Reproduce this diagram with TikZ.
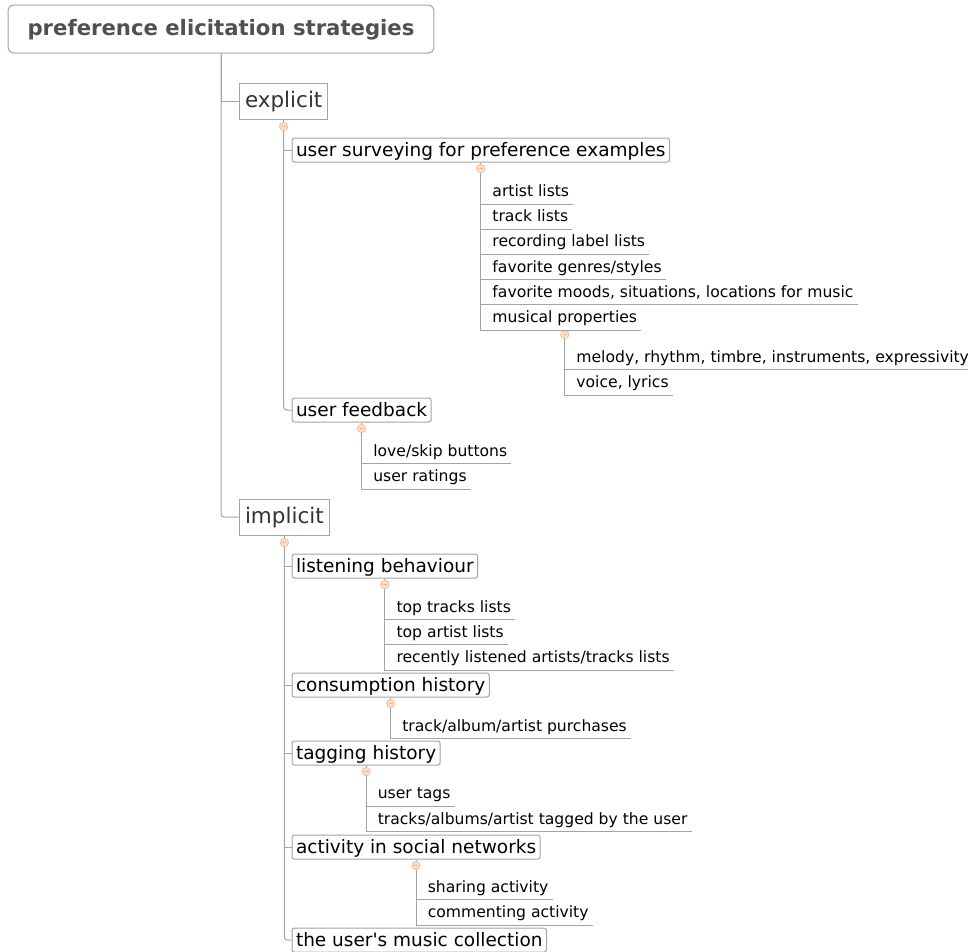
\documentclass[tikz,border=0pt]{standalone}
\usepackage{fontspec}
\setmainfont{DejaVu Sans}
\usetikzlibrary{positioning}
\definecolor{prefGray}{HTML}{A3A3A3}
\definecolor{prefDark}{HTML}{505050}
\definecolor{prefText}{HTML}{333333}
\definecolor{prefFoldFill}{HTML}{FCDDC8}
\definecolor{prefFoldLine}{HTML}{F2B893}
\begin{document}
\begin{tikzpicture}[x=1pt,y=-1pt,
    prefLine/.style={draw=prefGray,line width=1pt,rounded corners=3pt},
    prefLeafLine/.style={draw=prefGray,line width=1pt},
    prefRoot/.style={draw=prefGray,line width=1pt,rounded corners=6pt,minimum height=48pt,inner xsep=19.5pt,text height=17pt,text depth=5pt,font=\fontsize{21.2}{25}\selectfont\bfseries,text=prefDark},
    prefTopic/.style={draw=prefGray,line width=1pt,minimum height=36pt,inner xsep=5.5pt,anchor=west,text height=17.8pt,text depth=5.2pt,font=\fontsize{21.5}{26}\selectfont,text=prefText},
    prefSub/.style={draw=prefGray,line width=1pt,rounded corners=2.5pt,minimum height=24pt,inner xsep=4pt,inner ysep=0pt,anchor=west,text height=16.3pt,text depth=4.3pt,font=\fontsize{18.5}{22}\selectfont},
    prefLeaf/.style={anchor=south west,xshift=7.5pt,inner xsep=4pt,inner ysep=3.5pt,text height=11.8pt,text depth=3.5pt,font=\fontsize{15.6}{18}\selectfont},
    prefFold/.style={circle,draw=prefFoldLine,fill=prefFoldFill,line width=0.6pt,minimum size=8.5pt,inner sep=0pt,
        path picture={\draw[prefFoldLine,line width=0.8pt] ([xshift=-2pt]path picture bounding box.center) -- ([xshift=2pt]path picture bounding box.center);}},
]
\useasboundingbox (0,0) rectangle (968,951);
% Root
\node[prefRoot] (root) at (221,29) {preference elicitation strategies};
% Topics
\node[prefTopic] (expl) at (239,101) {explicit};
\node[prefTopic] (impl) at (239,517) {implicit};
\node[prefFold,below=2.5pt of expl] (explFold) {};
\node[prefFold,below=2.5pt of impl] (implFold) {};
% Explicit branch
\node[prefSub] (survey) at (291.5,150) {user surveying for preference examples};
\node[prefFold,below=1.5pt of survey] (surveyFold) {};
\node[prefLeaf] (artists) at (surveyFold |- 0,204) {artist lists};
\node[prefLeaf] (tracks) at (surveyFold |- 0,229) {track lists};
\node[prefLeaf] (labels) at (surveyFold |- 0,254) {recording label lists};
\node[prefLeaf] (genres) at (surveyFold |- 0,279.5) {favorite genres/styles};
\node[prefLeaf] (moods) at (surveyFold |- 0,304.5) {favorite moods, situations, locations for music};
\node[prefLeaf] (musical) at (surveyFold |- 0,330) {musical properties};
\node[prefFold,below=0pt of musical] (musicalFold) {};
\node[prefLeaf] (melody) at (musicalFold |- 0,369.5) {melody, rhythm, timbre, instruments, expressivity};
\node[prefLeaf] (voice) at (musicalFold |- 0,395) {voice, lyrics};
\node[prefSub] (feedback) at (291.5,410) {user feedback};
\node[prefFold,below=1.5pt of feedback] (feedbackFold) {};
\node[prefLeaf] (buttons) at (feedbackFold |- 0,463.5) {love/skip buttons};
\node[prefLeaf] (ratings) at (feedbackFold |- 0,489) {user ratings};
% Implicit branch
\node[prefSub] (listening) at (291.5,566) {listening behaviour};
\node[prefFold,below=1.5pt of listening] (listeningFold) {};
\node[prefLeaf] (topTracks) at (listeningFold |- 0,619.5) {top tracks lists};
\node[prefLeaf] (topArtists) at (listeningFold |- 0,644.5) {top artist lists};
\node[prefLeaf] (recent) at (listeningFold |- 0,670) {recently listened artists/tracks lists};
\node[prefSub] (consumption) at (291.5,685) {consumption history};
\node[prefFold,below=1.5pt of consumption] (consumptionFold) {};
\node[prefLeaf] (purchases) at (consumptionFold |- 0,738.5) {track/album/artist purchases};
\node[prefSub] (tagging) at (291.5,753) {tagging history};
\node[prefFold,below=1.5pt of tagging] (taggingFold) {};
\node[prefLeaf] (userTags) at (taggingFold |- 0,806) {user tags};
\node[prefLeaf] (tagged) at (taggingFold |- 0,831.5) {tracks/albums/artist tagged by the user};
\node[prefSub] (social) at (291.5,847) {activity in social networks};
\node[prefFold,below=1.5pt of social] (socialFold) {};
\node[prefLeaf] (sharing) at (socialFold |- 0,899.5) {sharing activity};
\node[prefLeaf] (commenting) at (socialFold |- 0,925) {commenting activity};
\node[prefSub] (collection) at (291.5,940) {the user\textquotesingle s music collection};
% Connectors (last child gets the rounded elbow)
\draw[prefLeafLine] (root.south) |- (expl.west);
\draw[prefLine] (root.south) |- (impl.west);
\draw[prefLine] (expl.south) -- (explFold.north);
\draw[prefLine] (impl.south) -- (implFold.north);
\draw[prefLeafLine] (explFold.south) |- (survey.west);
\draw[prefLine] (explFold.south) |- (feedback.west);
\draw[prefLeafLine] (implFold.south) |- (listening.west);
\draw[prefLeafLine] (implFold.south) |- (consumption.west);
\draw[prefLeafLine] (implFold.south) |- (tagging.west);
\draw[prefLeafLine] (implFold.south) |- (social.west);
\draw[prefLine] (implFold.south) |- (collection.west);
\draw[prefLine] (survey.south) -- (surveyFold.north);
\draw[prefLine] (feedback.south) -- (feedbackFold.north);
\draw[prefLine] (listening.south) -- (listeningFold.north);
\draw[prefLine] (consumption.south) -- (consumptionFold.north);
\draw[prefLine] (tagging.south) -- (taggingFold.north);
\draw[prefLine] (social.south) -- (socialFold.north);
% Leaf underlines
\draw[prefLeafLine] (surveyFold.south) |- (artists.south east);
\draw[prefLeafLine] (surveyFold.south) |- (tracks.south east);
\draw[prefLeafLine] (surveyFold.south) |- (labels.south east);
\draw[prefLeafLine] (surveyFold.south) |- (genres.south east);
\draw[prefLeafLine] (surveyFold.south) |- (moods.south east);
\draw[prefLeafLine] (surveyFold.south) |- (musical.south east);
\draw[prefLeafLine] (musicalFold.south) |- (melody.south east);
\draw[prefLeafLine] (musicalFold.south) |- (voice.south east);
\draw[prefLeafLine] (feedbackFold.south) |- (buttons.south east);
\draw[prefLeafLine] (feedbackFold.south) |- (ratings.south east);
\draw[prefLeafLine] (listeningFold.south) |- (topTracks.south east);
\draw[prefLeafLine] (listeningFold.south) |- (topArtists.south east);
\draw[prefLeafLine] (listeningFold.south) |- (recent.south east);
\draw[prefLeafLine] (consumptionFold.south) |- (purchases.south east);
\draw[prefLeafLine] (taggingFold.south) |- (userTags.south east);
\draw[prefLeafLine] (taggingFold.south) |- (tagged.south east);
\draw[prefLeafLine] (socialFold.south) |- (sharing.south east);
\draw[prefLeafLine] (socialFold.south) |- (commenting.south east);
\end{tikzpicture}
\end{document}
